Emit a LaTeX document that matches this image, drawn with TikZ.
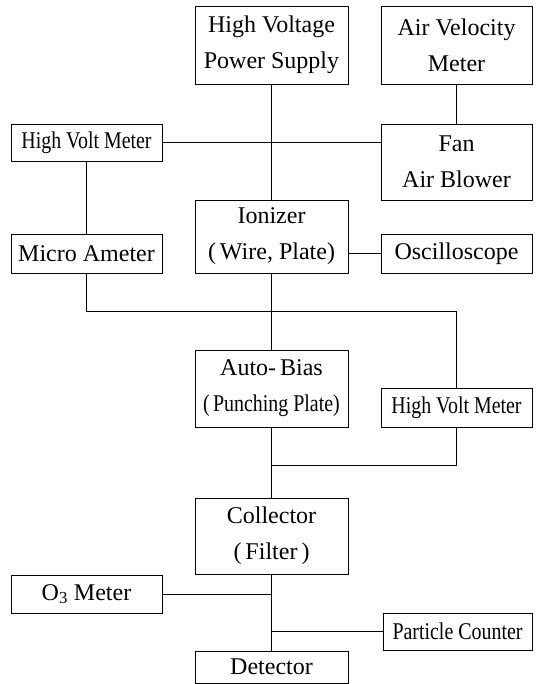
\documentclass[tikz,border=0pt]{standalone}
\usepackage{graphicx}
\usepackage{fontspec}
\setmainfont{Liberation Serif}
\begin{document}
\begin{tikzpicture}[x=1pt,y=-1pt,
  box/.style={draw,line width=0.9pt,inner sep=0pt,align=center,
    font=\fontsize{24}{36}\selectfont},
  wire/.style={line width=0.9pt}]
\useasboundingbox (0,0) rectangle (536,684);
\newcommand{\cnd}[1]{\scalebox{0.83}[1]{#1}}
\node[box,minimum width=153pt,minimum height=78pt] (hvps) at (271.5,45) {High Voltage\\Power Supply};
\node[box,minimum width=151pt,minimum height=78pt] (avm) at (456.5,45) {Air Velocity\\Meter};
\node[box,minimum width=151pt,minimum height=37pt] (hvm1) at (86.5,142.5) {\cnd{High Volt Meter}};
\node[box,minimum width=151pt,minimum height=76pt] (fan) at (456.5,162) {Fan\\Air Blower};
\node[box,minimum width=153pt,minimum height=73pt] (ion) at (271.5,236.5) {Ionizer\\(\,Wire, Plate)};
\node[box,minimum width=151pt,minimum height=39pt] (micro) at (86.5,253.5) {Micro Ameter};
\node[box,minimum width=151pt,minimum height=39pt] (osc) at (456.5,253.5) {Oscilloscope};
\node[box,minimum width=153pt,minimum height=77pt] (auto) at (271.5,388.5) {Auto-\,Bias\\\cnd{(\,Punching Plate)}};
\node[box,minimum width=151pt,minimum height=39pt] (hvm2) at (456.5,407.5) {\cnd{High Volt Meter}};
\node[box,minimum width=153pt,minimum height=76pt] (coll) at (271.5,536) {Collector\\(\,Filter\,)};
\node[box,minimum width=151pt,minimum height=38pt] (o3) at (86.5,594) {O\textsubscript{3} Meter};
\node[box,minimum width=149pt,minimum height=37pt] (pc) at (457.5,631.5) {\cnd{Particle Counter}};
\node[box,minimum width=153pt,minimum height=32pt] (det) at (271.5,667) {Detector};
\coordinate (b1) at (86.5,311);
\coordinate (b2) at (456.5,311);
\coordinate (b3) at (456.5,465);
\coordinate (b4) at (271.5,465);
\coordinate (j1) at (271.5,594);
\coordinate (j2) at (271.5,631.5);
\draw[wire] (hvps) -- (ion);
\draw[wire] (hvm1.east) -- (hvm1.east -| fan.west);
\draw[wire] (avm) -- (fan);
\draw[wire] (hvm1) -- (micro);
\draw[wire] (micro.south) -- (b1) -- (b2) -- (hvm2.north);
\draw[wire] (ion) -- (auto);
\draw[wire] (osc.west -| ion.east) -- (osc.west);
\draw[wire] (auto) -- (coll);
\draw[wire] (hvm2.south) -- (b3) -- (b4);
\draw[wire] (coll) -- (det);
\draw[wire] (o3) -- (j1);
\draw[wire] (pc) -- (j2);
\end{tikzpicture}
\end{document}
